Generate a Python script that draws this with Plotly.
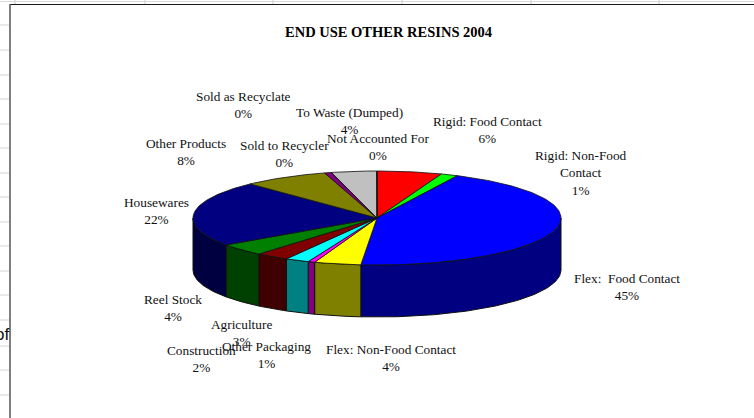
import numpy as np
import plotly.graph_objects as go

categories = ["Rigid: Food Contact", "Rigid: Non-Food<br>Contact", "Flex:  Food Contact",
              "Flex: Non-Food Contact", "Other Packaging", "Construction", "Agriculture",
              "Reel Stock", "Housewares", "Other Products", "Sold as Recyclate",
              "Sold to Recycler", "To Waste (Dumped)", "Not Accounted For"]
values = [5.7, 1.5, 44.2, 4.1, 0.6, 2.1, 2.9, 4.2, 22.6, 7.5, 0.6, 0.02, 3.96, 0.02]
percent_labels = [6, 1, 45, 4, 1, 2, 3, 4, 22, 8, 0, 0, 4, 0]
top_colors = ["#FF0000", "#00FF00", "#0000FF", "#FFFF00", "#FF00FF", "#00FFFF", "#800000",
              "#008000", "#000080", "#808000", "#800080", "#008080", "#C0C0C0", "#808080"]
side_colors = ["#800000", "#008000", "#000080", "#808000", "#800080", "#008080", "#400000",
               "#004000", "#000040", "#404000", "#400040", "#004040", "#606060", "#404040"]
label_centers = [(487, 130), (581, 173), (627, 287), (391, 358), (266, 355), (201, 359), (241, 333),
                 (173, 308), (156, 211), (186, 152), (243, 105), (284, 154), (349, 121), (378, 147)]

CX, CY, RX, RY, DEPTH = 377, 218, 184, 47, 52
OUTLINE = "#101010"
fig = go.Figure()


def arc(a0, a1):
    t = np.radians(np.linspace(a0, a1, max(2, int(abs(a1 - a0)) + 2)))
    return CX + RX * np.sin(t), CY - RY * np.cos(t)


total = sum(values)
edges = np.concatenate([[0], np.cumsum(values)]) / total * 360

# front wall of the cylinder
for i in range(len(values)):
    a0, a1 = max(edges[i], 90), min(edges[i + 1], 270)
    if a1 <= a0:
        continue
    x, y = arc(a0, a1)
    fig.add_trace(go.Scatter(
        x=np.concatenate([x, x[::-1], x[:1]]),
        y=np.concatenate([y, y[::-1] + DEPTH, y[:1]]),
        mode="lines", fill="toself", fillcolor=side_colors[i],
        line=dict(color=OUTLINE, width=1), hoverinfo="skip", showlegend=False))

# top surface
for i in range(len(values)):
    x, y = arc(edges[i], edges[i + 1])
    fig.add_trace(go.Scatter(
        x=np.concatenate([[CX], x, [CX]]),
        y=np.concatenate([[CY], y, [CY]]),
        mode="lines", fill="toself", fillcolor=top_colors[i],
        line=dict(color=OUTLINE, width=0.8), hoverinfo="skip", showlegend=False))

FONT = "Liberation Serif, Times New Roman, serif"
for name, pct, (lx, ly) in zip(categories, percent_labels, label_centers):
    fig.add_annotation(x=lx, y=ly, text=f"{name}<br>{pct}%", showarrow=False,
                       xanchor="center", yanchor="middle", align="center",
                       font=dict(family=FONT, size=13.3, color="#111111"))

fig.add_annotation(x=388, y=32, text="<b>END USE OTHER RESINS 2004</b>", showarrow=False,
                   xanchor="center", yanchor="middle", font=dict(family=FONT, size=14.5, color="#000000"))
fig.add_annotation(x=9, y=334, text="of", showarrow=False, xanchor="right", yanchor="middle",
                   xshift=2, font=dict(family="Liberation Sans, Arial, sans-serif", size=17, color="#111111"))

shapes = []
# spreadsheet behind the chart
for gy in [25, 50, 75, 99, 124, 148, 173, 197, 222, 246, 271, 295, 320, 346, 370, 395]:
    shapes.append(dict(type="line", x0=0, x1=9, y0=gy, y1=gy, line=dict(color="#D4D4D4", width=1)))
for gx in [15, 145, 273, 402, 531, 659]:
    shapes.append(dict(type="line", x0=gx, x1=gx, y0=0, y1=4, line=dict(color="#C8C8C8", width=1)))
shapes.append(dict(type="line", x0=0, x1=754, y0=1.5, y1=1.5, line=dict(color="#DADADA", width=1)))
shapes.append(dict(type="line", x0=10, x1=754, y0=4.5, y1=4.5, line=dict(color="#1A1A1A", width=1.2)))
shapes.append(dict(type="line", x0=10, x1=10, y0=4, y1=418, line=dict(color="#555555", width=1.5)))

fig.update_layout(
    width=754, height=418, margin=dict(l=0, r=0, t=0, b=0),
    paper_bgcolor="#FFFFFF", plot_bgcolor="#FFFFFF", shapes=shapes,
    xaxis=dict(range=[0, 754], visible=False, fixedrange=True),
    yaxis=dict(range=[418, 0], visible=False, fixedrange=True),
)
fig.write_html("out.html", config={"displayModeBar": False},
               post_script="document.body.style.margin='0';document.documentElement.style.overflow='hidden';")
